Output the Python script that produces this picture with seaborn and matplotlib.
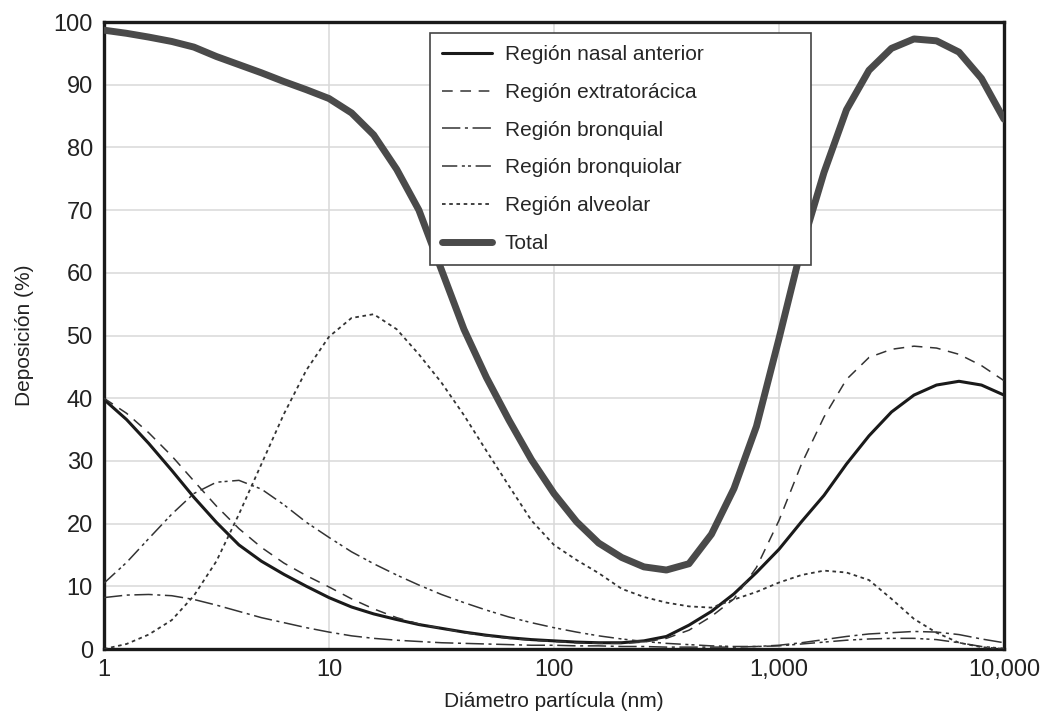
import numpy as np
import pandas as pd
import matplotlib
matplotlib.use("Agg")
import matplotlib.pyplot as plt
import seaborn as sns

# diámetros en nm (cada 0.1 décadas, de 1 a 10,000)
diametro = [1, 1.26, 1.58, 2.0, 2.51, 3.16, 3.98, 5.01, 6.31, 7.94,
            10, 12.6, 15.8, 20.0, 25.1, 31.6, 39.8, 50.1, 63.1, 79.4,
            100, 126, 158, 200, 251, 316, 398, 501, 631, 794,
            1000, 1259, 1585, 1995, 2512, 3162, 3981, 5012, 6310, 7943,
            10000]

nasal_anterior = [39.8, 36.6, 32.8, 28.5, 24.2, 20.2, 16.6, 14.0, 11.9, 10.0,
                  8.2, 6.7, 5.6, 4.7, 3.9, 3.3, 2.7, 2.2, 1.8, 1.5,
                  1.3, 1.1, 1.0, 1.0, 1.3, 2.0, 3.8, 6.0, 8.8, 12.2,
                  15.9, 20.3, 24.5, 29.5, 34.0, 37.8, 40.5, 42.1, 42.7, 42.1,
                  40.5]

extratoracica = [40.0, 37.6, 34.5, 30.8, 26.8, 22.8, 19.2, 16.2, 13.7, 11.7,
                 9.9, 8.0, 6.4, 5.0, 4.0, 3.3, 2.6, 2.1, 1.7, 1.4,
                 1.2, 1.0, 0.9, 0.9, 1.1, 1.7, 3.0, 5.2, 8.0, 13.0,
                 20.5, 29.5, 37.0, 43.0, 46.5, 47.8, 48.3, 48.0, 47.0, 45.2,
                 42.8]

bronquial = [8.2, 8.6, 8.7, 8.5, 7.9, 7.0, 6.0, 5.0, 4.2, 3.4,
             2.7, 2.1, 1.7, 1.4, 1.2, 1.0, 0.9, 0.8, 0.7, 0.6,
             0.6, 0.5, 0.5, 0.4, 0.4, 0.3, 0.3, 0.3, 0.3, 0.4,
             0.6, 1.0, 1.5, 2.0, 2.4, 2.6, 2.8, 2.7, 2.3, 1.6,
             1.0]

bronquiolar = [10.5, 13.8, 17.6, 21.5, 24.8, 26.6, 26.9, 25.5, 23.0, 20.2,
               17.8, 15.5, 13.6, 11.8, 10.2, 8.7, 7.4, 6.2, 5.1, 4.2,
               3.4, 2.7, 2.1, 1.6, 1.2, 0.9, 0.7, 0.5, 0.4, 0.4,
               0.5, 0.8, 1.1, 1.4, 1.6, 1.7, 1.7, 1.5, 1.0, 0.4,
               0.1]

alveolar = [0.0, 0.8, 2.3, 4.6, 8.5, 14.0, 21.5, 29.5, 37.5, 44.5,
            49.8, 52.8, 53.4, 51.0, 47.0, 42.5, 37.3, 31.6, 26.0, 20.5,
            16.6, 14.2, 12.1, 9.6, 8.3, 7.4, 6.8, 6.6, 7.9, 9.1,
            10.6, 11.8, 12.5, 12.2, 11.0, 8.0, 4.8, 2.6, 1.0, 0.3,
            0.0]

total = [98.7, 98.2, 97.6, 96.9, 96.0, 94.5, 93.2, 91.9, 90.5, 89.2,
         87.8, 85.5, 82.0, 76.5, 70.0, 60.5, 51.0, 43.3, 36.5, 30.2,
         24.8, 20.3, 16.9, 14.6, 13.1, 12.6, 13.6, 18.3, 25.6, 35.5,
         49.5, 64.0, 76.0, 86.0, 92.3, 95.8, 97.3, 97.0, 95.2, 91.0,
         84.5]

etiquetas_x = ["1", "10", "100", "1,000", "10,000"]

series = [
    ("Región nasal anterior", nasal_anterior, "#1a1a1a", 2.2, "-"),
    ("Región extratorácica", extratoracica, "#333333", 1.1, (0, (7, 5))),
    ("Región bronquial", bronquial, "#333333", 1.1, (0, (12, 3, 2, 3))),
    ("Región bronquiolar", bronquiolar, "#333333", 1.1, (0, (10, 3, 2, 2, 2, 3))),
    ("Región alveolar", alveolar, "#333333", 1.3, (0, (2, 2))),
    ("Total", total, "#4a4a4a", 5.0, "-"),
]

sns.set_theme(style="whitegrid")
plt.rcParams["font.family"] = ["Liberation Sans", "DejaVu Sans"]

fig = plt.figure(figsize=(10.48, 7.22), dpi=100)
ax = fig.add_axes([0.0992, 0.1011, 0.8588, 0.8684])

df = pd.DataFrame({"diametro": diametro})
for nombre, valores, color, lw, ls in series:
    df[nombre] = valores
    sns.lineplot(
        data=df,
        x="diametro",
        y=nombre,
        ax=ax,
        color=color,
        linewidth=lw,
        linestyle=ls,
        label=nombre,
        zorder=3,
    )

ax.set_xscale("log")
ax.set_xlim(1, 10000)
ax.set_ylim(0, 100)
ax.set_xticks([1, 10, 100, 1000, 10000])
ax.set_xticklabels(etiquetas_x)
ax.xaxis.set_minor_locator(matplotlib.ticker.NullLocator())
ax.set_yticks(range(0, 101, 10))

ax.grid(True, which="major", color="#d9d9d9", linewidth=1.1)
ax.set_facecolor("white")
for s in ax.spines.values():
    s.set_color("#1a1a1a")
    s.set_linewidth(2.4)

ax.tick_params(axis="both", direction="in", length=12, width=1.3,
               color="#1a1a1a", labelsize=17, labelcolor="#222222", pad=8)
ax.tick_params(axis="x", pad=7)

ax.set_xlabel("Diámetro partícula (nm)", fontsize=15, color="#222222", labelpad=8)
ax.set_ylabel("Deposición (%)", fontsize=15, color="#222222", labelpad=14)

# leyenda expandida al ancho del recuadro original
leg = ax.legend(
    loc="upper left",
    bbox_to_anchor=(0.362, 0.0, 0.424, 0.983),
    mode="expand",
    fontsize=15,
    frameon=True,
    fancybox=False,
    edgecolor="#444444",
    framealpha=1,
    handlelength=2.4,
    handletextpad=0.6,
    labelspacing=0.9,
    borderpad=0.6,
    borderaxespad=0,
)
leg.get_frame().set_linewidth(1.2)

fig.savefig("out.png", dpi=100)
